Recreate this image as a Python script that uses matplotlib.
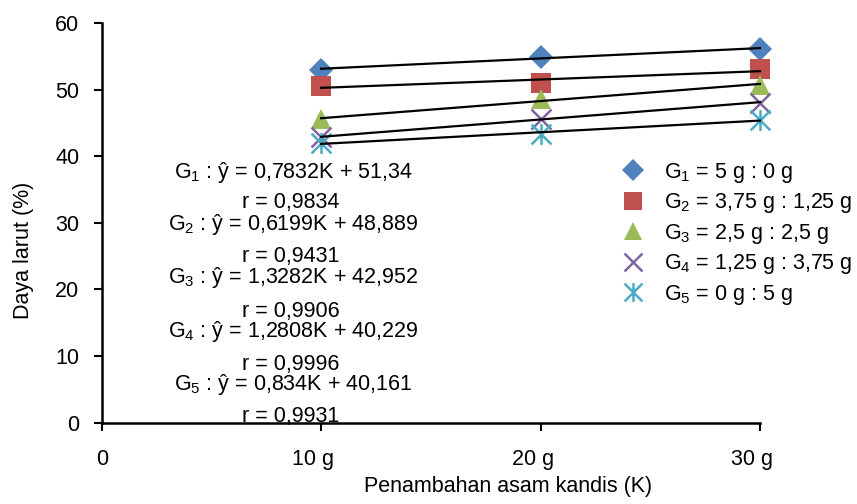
import numpy as np
import matplotlib
matplotlib.use("Agg")
import matplotlib.pyplot as plt
from matplotlib.path import Path
from matplotlib.transforms import ScaledTranslation

plt.rcParams["font.family"] = ["Liberation Sans", "DejaVu Sans"]
plt.rcParams["mathtext.fontset"] = "custom"
plt.rcParams["mathtext.rm"] = "Liberation Sans"

# data
x_vals = [10, 20, 30]
g1 = [53.0, 54.95, 56.1]
g2 = [50.55, 50.95, 53.05]
g3 = [45.55, 48.6, 50.7]
g4 = [42.85, 45.65, 48.05]
g5 = [41.95, 43.4, 45.45]
series = [g1, g2, g3, g4, g5]

legend_labels = ["G$_\\mathregular{1}$ = 5 g : 0 g",
                 "G$_\\mathregular{2}$ = 3,75 g : 1,25 g",
                 "G$_\\mathregular{3}$ = 2,5 g : 2,5 g",
                 "G$_\\mathregular{4}$ = 1,25 g : 3,75 g",
                 "G$_\\mathregular{5}$ = 0 g : 5 g"]
equations = ["G$_\\mathregular{1}$ : ŷ = 0,7832K + 51,34",
             "G$_\\mathregular{2}$ : ŷ = 0,6199K + 48,889",
             "G$_\\mathregular{3}$ : ŷ = 1,3282K + 42,952",
             "G$_\\mathregular{4}$ : ŷ = 1,2808K + 40,229",
             "G$_\\mathregular{5}$ : ŷ = 0,834K + 40,161"]
r_values = ["r = 0,9834", "r = 0,9431", "r = 0,9906", "r = 0,9996", "r = 0,9931"]
xtick_vals = [0, 10, 20, 30]
xtick_labels = ["0", "10 g", "20 g", "30 g"]

colors = ["#4F81BD", "#C0504D", "#9BBB59", "#8064A2", "#4BACC6"]

# excel style star marker: X with a vertical bar
star = Path([(-1, -1), (1, 1), (-1, 1), (1, -1), (0, -1.05), (0, 1.05)],
            [Path.MOVETO, Path.LINETO, Path.MOVETO, Path.LINETO, Path.MOVETO, Path.LINETO])
markers = ["D", "s", "^", "x", star]
msizes = [12, 14, 14, 14, 15]

fig = plt.figure(figsize=(8.57, 5.04), dpi=100)
ax = fig.add_axes([101.7 / 857, 1 - 422.7 / 504, (760 - 101.7) / 857, (422.7 - 23) / 504])

for i, ys in enumerate(series):
    coef = np.polyfit(x_vals, ys, 1)
    xs = np.array([x_vals[0], x_vals[-1]])
    ax.plot(xs, np.polyval(coef, xs), color="black", lw=1.6, zorder=3, clip_on=False)

for i, ys in enumerate(series):
    ax.plot(x_vals, ys, linestyle="none", marker=markers[i], markersize=msizes[i],
            color=colors[i], markeredgewidth=1.8 if i >= 3 else 0, zorder=2,
            label=legend_labels[i], clip_on=False)

fs = 15.5
# equation text (y positions are baselines in data units)
eq_y = [36.73, 28.93, 20.97, 12.86, 4.91]
r_y = [32.23, 24.12, 15.87, 7.91, 0.1]
for i in range(5):
    ax.text(8.73, eq_y[i], equations[i], ha="center", va="baseline", fontsize=fs)
    ax.text(8.63, r_y[i], r_values[i], ha="center", va="baseline", fontsize=fs)

ax.set_xlim(0, 30)
ax.set_ylim(0, 60)
ax.set_xticks(xtick_vals)
ax.set_xticklabels(xtick_labels)
ax.set_yticks(range(0, 61, 10))
ax.tick_params(axis="both", labelsize=fs, direction="out", width=1.5, length=6)
ax.tick_params(axis="y", pad=10)
ax.tick_params(axis="x", pad=13)
for lab in ax.get_xticklabels()[1:]:
    lab.set_transform(lab.get_transform() + ScaledTranslation(-8 / 100, 0, fig.dpi_scale_trans))

for s in ["top", "right"]:
    ax.spines[s].set_visible(False)
for s in ["left", "bottom"]:
    ax.spines[s].set_linewidth(1.8)

ax.set_ylabel("Daya larut (%)", fontsize=fs)
ax.yaxis.set_label_coords((34 - 101.7) / 658.3, (422.7 - 250) / 399.7)
ax.set_xlabel("Penambahan asam kandis (K)", fontsize=fs)
ax.xaxis.set_label_coords((508 - 101.7) / 658.3, (422.7 - 476) / 399.7)

ax.legend(loc="upper left", bbox_to_anchor=((620 - 101.7) / 658.3, (422.7 - 161) / 399.7),
          frameon=False, fontsize=fs, handletextpad=0.85, labelspacing=0.3,
          borderpad=0, borderaxespad=0, markerscale=0.9, handlelength=1.2)

fig.savefig("out.png", dpi=100)
